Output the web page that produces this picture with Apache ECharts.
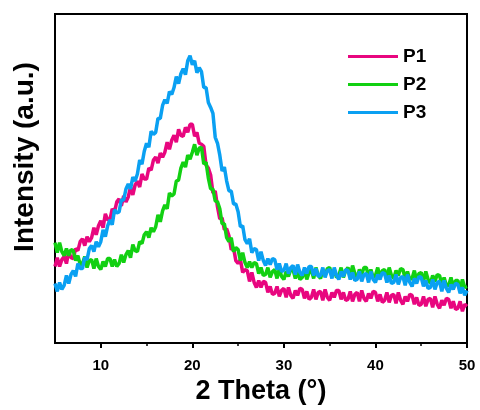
<!DOCTYPE html>
<html>
<head>
<meta charset="utf-8">
<script src="https://cdn.jsdelivr.net/npm/echarts@6/dist/echarts.min.js"></script>
<style>html,body{margin:0;padding:0;background:#fff;}#c{width:480px;height:410px;}</style>
</head>
<body>
<div id="c"></div>
<script>
// 2θ sampling: start 5°, step 0.25°, up to 50°
const thetaStart = 5;
const thetaStep = 0.25;
const seriesNames = ['P1', 'P2', 'P3'];
const xTickValues = [10, 20, 30, 40, 50];
const xMinorTickValues = [15, 25, 35, 45];

// Intensity (arbitrary units), including its noise
const P1 = [
 77,86,77,84, 87,80,92,86, 85,95,93,102, 105,98,107,102, 106,116,109,118,
 123,116,130,124, 124,135,132,142, 145,138,148,142, 147,157,149,159, 163,157,170,165,
 165,176,174,184, 187,181,191,187, 192,202,195,204, 209,202,215,209, 208,217,212,220,
 220,208,212,201, 200,198,179,176, 169,151,153,137, 125,126,114,115, 108,94,96,83,
 80,84,71,74, 73,62,71,61, 56,63,56,62, 61,51,57,49, 50,57,47,53,
 55,46,56,48, 45,53,48,55, 54,45,52,44, 46,54,44,51, 52,43,54,46,
 43,51,46,53, 53,44,51,43, 44,52,42,49, 51,42,53,45, 42,50,45,52,
 51,42,49,41, 43,51,41,48, 49,40,51,43, 39,47,42,49, 48,39,46,38,
 39,47,37,44, 45,36,47,39, 35,43,38,45, 44,35,42,34, 35,42,32,39,
 37
];
const P2 = [
 101,91,101,92, 88,95,88,94, 93,83,88,79, 80,87,76,83, 84,75,85,77,
 74,82,77,85, 85,77,84,77, 80,89,81,89, 93,86,99,93, 92,102,100,109,
 112,106,116,112, 117,129,122,133, 139,135,151,148, 150,163,164,176, 182,177,189,185,
 192,200,189,196, 197,180,182,166, 155,155,143,142, 135,120,120,106, 102,106,92,96,
 94,83,91,81, 76,82,76,81, 80,70,76,68, 69,76,66,72, 74,65,75,67,
 64,72,67,74, 74,65,72,64, 66,74,64,71, 74,65,76,68, 65,73,68,75,
 76,67,74,66, 68,76,66,73, 76,67,78,70, 66,74,69,76, 76,67,74,66,
 68,76,66,73, 74,65,76,68, 65,73,68,75, 74,65,72,64, 65,73,63,70,
 71,62,72,64, 60,68,62,69, 68,59,66,58, 58,66,56,63, 63,54,64,56,
 57
];
const P3 = [
 60,52,61,54, 58,68,60,69, 73,67,80,75, 75,86,84,95, 98,92,102,97,
 102,114,107,118, 124,119,134,131, 132,144,144,155, 160,155,167,163, 170,184,180,193,
 201,197,213,210, 212,226,226,239, 245,241,253,250, 257,268,261,271, 276,270,284,289,
 280,284,272,277, 273,257,257,242, 237,231,207,201, 189,173,177,163, 153,153,140,140,
 132,117,118,104, 100,105,91,95, 94,83,92,83, 78,85,79,85, 84,74,80,72,
 73,80,70,76, 78,69,79,71, 68,76,70,77, 77,68,75,67, 68,76,66,73,
 74,65,76,68, 64,72,67,74, 73,64,71,63, 64,72,62,69, 70,61,72,64,
 61,69,64,71, 70,61,68,60, 61,69,59,66, 67,58,69,61, 57,65,60,67,
 66,57,63,55, 56,64,54,61, 62,52,63,55, 51,59,54,60, 59,50,56,48,
 53
];
const seriesValues = [P1, P2, P3];
const colors = ['#e8067f', '#12d012', '#0aa0f2'];

const FONT = 'Arial, "Liberation Sans", sans-serif';

function pairs(vals) {
  return vals.map((v, i) => [thetaStart + i * thetaStep, v]);
}

const chart = echarts.init(document.getElementById('c'), null, {renderer: 'canvas'});
chart.setOption({
  animation: false,
  backgroundColor: '#fff',
  grid: {left: 55, right: 13, top: 14, bottom: 65, show: true, borderColor: '#000', borderWidth: 2, backgroundColor: 'transparent'},
  legend: {
    orient: 'vertical', left: 348, top: 47, padding: 0, icon: 'rect', itemWidth: 50, itemHeight: 3, itemGap: 9,
    textStyle: {fontFamily: FONT, fontWeight: 'bold', fontSize: 19, color: '#000'},
    data: seriesNames
  },
  xAxis: [{
    type: 'value', min: 5, max: 50,
    axisLine: {show: true, lineStyle: {color: '#000', width: 2}},
    axisTick: {show: true, customValues: xTickValues, length: 5, lineStyle: {color: '#000', width: 2}},
    axisLabel: {customValues: xTickValues, fontFamily: FONT, fontWeight: 'bold', fontSize: 15, color: '#000', margin: 15},
    splitLine: {show: false},
    name: '2 Theta (°)', nameLocation: 'middle', nameGap: 33,
    nameTextStyle: {fontFamily: FONT, fontWeight: 'bold', fontSize: 27, color: '#000'}
  }, {
    type: 'value', min: 5, max: 50, position: 'bottom',
    axisLine: {show: false},
    axisTick: {show: true, customValues: xMinorTickValues, length: 3, lineStyle: {color: '#000', width: 1.5}},
    axisLabel: {show: false},
    splitLine: {show: false}
  }],
  yAxis: {
    type: 'value', min: 0, max: 331,
    axisLine: {show: true, lineStyle: {color: '#000', width: 2}},
    axisTick: {show: false}, axisLabel: {show: false}, splitLine: {show: false}
  },
  graphic: [{
    type: 'text', x: 25, y: 157, rotation: Math.PI / 2,
    style: {text: 'Intensity (a.u.)', fontFamily: FONT, fontWeight: 'bold', fontSize: 28, fill: '#000', align: 'center', verticalAlign: 'middle'}
  }],
  series: seriesNames.map((n, k) => ({
    name: n, type: 'line', data: pairs(seriesValues[k]), symbol: 'none', showSymbol: false,
    lineStyle: {color: colors[k], width: 3.5}, itemStyle: {color: colors[k]}, z: 2 + k
  }))
});
</script>
</body>
</html>
